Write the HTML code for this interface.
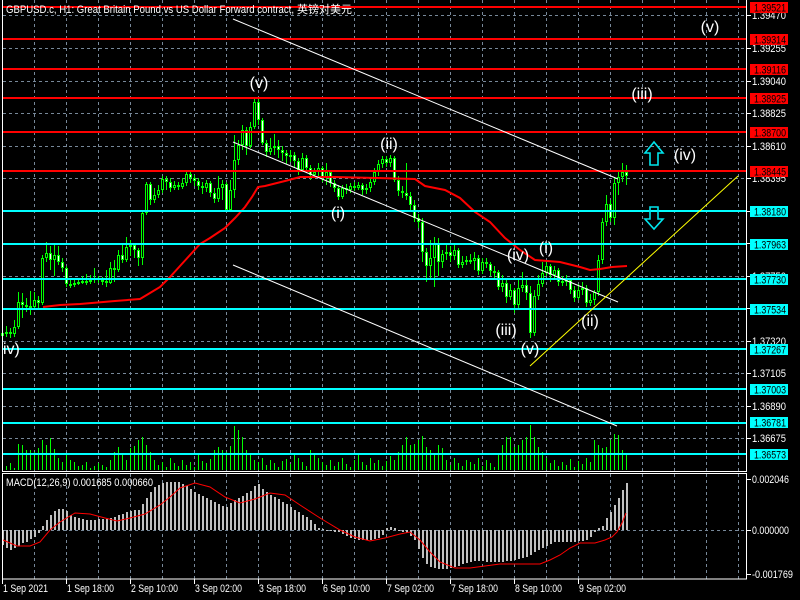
<!DOCTYPE html>
<html><head><meta charset="utf-8">
<style>
html,body{margin:0;padding:0;background:#000;}
svg{display:block}
text{font-family:"Liberation Sans","Noto Sans CJK SC",sans-serif;}
</style></head><body>
<svg width="800" height="600" viewBox="0 0 800 600" xmlns="http://www.w3.org/2000/svg">
<rect width="800" height="600" fill="#000"/>
<!-- grid -->
<g stroke="#778899" stroke-width="1" stroke-dasharray="3 3" fill="none">
<path d="M34.5 0V471M66.5 0V471M98.5 0V471M130.5 0V471M162.5 0V471M194.5 0V471M226.5 0V471M258.5 0V471M290.5 0V471M322.5 0V471M354.5 0V471M386.5 0V471M418.5 0V471M450.5 0V471M482.5 0V471M514.5 0V471M546.5 0V471M578.5 0V471M610.5 0V471M642.5 0V471M674.5 0V471M706.5 0V471M738.5 0V471"/>
<path d="M34.5 474V579M66.5 474V579M98.5 474V579M130.5 474V579M162.5 474V579M194.5 474V579M226.5 474V579M258.5 474V579M290.5 474V579M322.5 474V579M354.5 474V579M386.5 474V579M418.5 474V579M450.5 474V579M482.5 474V579M514.5 474V579M546.5 474V579M578.5 474V579M610.5 474V579M642.5 474V579M674.5 474V579M706.5 474V579M738.5 474V579"/>
<path d="M3 15.5H746M3 48.5H746M3 81.5H746M3 113.5H746M3 146.5H746M3 178.5H746M3 211.5H746M3 243.5H746M3 276.5H746M3 308.5H746M3 341.5H746M3 373.5H746M3 406.5H746M3 438.5H746M3 530.5H746"/>
</g>
<!-- volumes -->
<path stroke="#00ff00" stroke-width="1" fill="none" d="M2.5 470V467M6.5 470V466M10.5 470V463M14.5 470V468M18.5 470V444M22.5 470V445M26.5 470V450M30.5 470V450M34.5 470V452M38.5 470V448M42.5 470V440M46.5 470V445M50.5 470V438M54.5 470V449M58.5 470V458M62.5 470V462M66.5 470V455M70.5 470V460M74.5 470V462M78.5 470V466M82.5 470V465M86.5 470V462M90.5 470V468M94.5 470V466M98.5 470V463M102.5 470V465M106.5 470V467M110.5 470V460M114.5 470V452M118.5 470V447M122.5 470V455M126.5 470V460M130.5 470V448M134.5 470V446M138.5 470V440M142.5 470V437M146.5 470V445M150.5 470V452M154.5 470V460M158.5 470V465M162.5 470V462M166.5 470V467M170.5 470V458M174.5 470V463M178.5 470V466M182.5 470V460M186.5 470V465M190.5 470V462M194.5 470V467M198.5 470V455M202.5 470V461M206.5 470V463M210.5 470V459M214.5 470V450M218.5 470V447M222.5 470V450M226.5 470V452M230.5 470V446M234.5 470V426M238.5 470V430M242.5 470V437M246.5 470V450M250.5 470V455M254.5 470V460M258.5 470V462M262.5 470V458M266.5 470V465M270.5 470V460M274.5 470V463M278.5 470V467M282.5 470V461M286.5 470V459M290.5 470V464M294.5 470V455M298.5 470V458M302.5 470V462M306.5 470V466M310.5 470V450M314.5 470V453M318.5 470V458M322.5 470V462M326.5 470V465M330.5 470V460M334.5 470V466M338.5 470V462M342.5 470V458M346.5 470V464M350.5 470V467M354.5 470V460M358.5 470V455M362.5 470V462M366.5 470V465M370.5 470V458M374.5 470V463M378.5 470V460M382.5 470V466M386.5 470V461M390.5 470V456M394.5 470V460M398.5 470V452M402.5 470V445M406.5 470V437M410.5 470V445M414.5 470V444M418.5 470V440M422.5 470V436M426.5 470V447M430.5 470V450M434.5 470V455M438.5 470V445M442.5 470V448M446.5 470V460M450.5 470V465M454.5 470V458M458.5 470V463M462.5 470V466M466.5 470V460M470.5 470V462M474.5 470V464M478.5 470V458M482.5 470V466M486.5 470V460M490.5 470V463M494.5 470V467M498.5 470V455M502.5 470V445M506.5 470V437M510.5 470V437M514.5 470V447M518.5 470V445M522.5 470V440M526.5 470V437M530.5 470V425M534.5 470V437M538.5 470V447M542.5 470V452M546.5 470V458M550.5 470V463M554.5 470V460M558.5 470V466M562.5 470V462M566.5 470V465M570.5 470V459M574.5 470V467M578.5 470V461M582.5 470V464M586.5 470V458M590.5 470V462M594.5 470V440M598.5 470V445M602.5 470V448M606.5 470V447M610.5 470V440M614.5 470V434M618.5 470V435M622.5 470V450M626.5 470V455"/>
<!-- wicks -->
<path stroke="#00ff00" stroke-width="1" fill="none" d="M2.5 328V340M6.5 326V337M10.5 328V338M14.5 320V337M18.5 292V329M22.5 293V318M26.5 298V312M30.5 291V315M34.5 292V310M38.5 296V308M42.5 255V305M46.5 242V262M50.5 246V270M54.5 245V276M58.5 246V265M62.5 258V272M66.5 266V287M70.5 280V288M74.5 280V287M78.5 278V285M82.5 276V284M86.5 274V285M90.5 275V284M94.5 268V283M98.5 276V283M102.5 277V285M106.5 270V287M110.5 262V284M114.5 260V282M118.5 250V272M122.5 245V263M126.5 237V262M130.5 240V256M134.5 243V258M138.5 248V266M142.5 210V265M146.5 182V215M150.5 182V205M154.5 188V203M158.5 185V198M162.5 176V193M166.5 176V190M170.5 178V192M174.5 181V190M178.5 182V190M182.5 178V189M186.5 171V186M190.5 171V183M194.5 175V186M198.5 178V190M202.5 182V194M206.5 180V192M210.5 181V197M214.5 188V203M218.5 176V202M222.5 180V200M226.5 182V211M230.5 180V212M234.5 135V198M238.5 140V165M242.5 125V150M246.5 127V155M250.5 122V148M254.5 99V129M258.5 97V125M262.5 118V145M266.5 140V157M270.5 138V155M274.5 134V155M278.5 140V158M282.5 146V161M286.5 150V164M290.5 150V162M294.5 152V167M298.5 158V175M302.5 153V172M306.5 155V173M310.5 165V180M314.5 168V178M318.5 163V178M322.5 166V182M326.5 163V185M330.5 170V187M334.5 180V192M338.5 185V200M342.5 185V199M346.5 184V194M350.5 183V193M354.5 182V191M358.5 182V190M362.5 183V195M366.5 184V194M370.5 178V192M374.5 168V185M378.5 160V176M382.5 156V168M386.5 156V167M390.5 155V167M394.5 156V182M398.5 176V196M402.5 186V198M406.5 163V200M410.5 192V210M414.5 200V222M418.5 214V228M422.5 218V262M426.5 248V282M430.5 240V278M434.5 237V287M438.5 238V276M442.5 250V268M446.5 245V260M450.5 246V262M454.5 244V260M458.5 248V268M462.5 256V268M466.5 256V265M470.5 254V264M474.5 252V270M478.5 255V275M482.5 258V274M486.5 258V268M490.5 262V276M494.5 266V280M498.5 270V290M502.5 275V292M506.5 280V303M510.5 284V300M514.5 288V313M518.5 280V308M522.5 272V292M526.5 278V300M530.5 286V338M534.5 290V336M538.5 275V300M542.5 262V287M546.5 260V276M550.5 264V282M554.5 266V280M558.5 268V286M562.5 276V286M566.5 275V286M570.5 278V294M574.5 286V302M578.5 284V300M582.5 282V295M586.5 285V307M590.5 294V306M594.5 290V305M598.5 255V296M602.5 218V264M606.5 195V226M610.5 200V222M614.5 178V225M618.5 170V195M622.5 163V182M626.5 165V185"/>
<!-- bull bodies -->
<g fill="#000" stroke="#00ff00" stroke-width="1">
<rect x="1.5" y="333.5" width="2" height="2"/><rect x="5.5" y="332.5" width="2" height="1"/><rect x="13.5" y="327.5" width="2" height="6"/><rect x="17.5" y="302.5" width="2" height="24"/><rect x="33.5" y="300.5" width="2" height="6"/><rect x="41.5" y="258.5" width="2" height="44"/><rect x="45.5" y="253.5" width="2" height="4"/><rect x="53.5" y="255.5" width="2" height="4"/><rect x="73.5" y="283.5" width="2" height="1"/><rect x="77.5" y="282.5" width="2" height="1"/><rect x="81.5" y="281.5" width="2" height="1"/><rect x="89.5" y="280.5" width="2" height="1"/><rect x="93.5" y="278.5" width="2" height="1"/><rect x="109.5" y="268.5" width="2" height="14"/><rect x="117.5" y="255.5" width="2" height="14"/><rect x="125.5" y="247.5" width="2" height="12"/><rect x="129.5" y="245.5" width="2" height="1"/><rect x="141.5" y="213.5" width="2" height="44"/><rect x="145.5" y="184.5" width="2" height="28"/><rect x="153.5" y="195.5" width="2" height="4"/><rect x="157.5" y="190.5" width="2" height="4"/><rect x="161.5" y="179.5" width="2" height="10"/><rect x="173.5" y="185.5" width="2" height="2"/><rect x="181.5" y="183.5" width="2" height="3"/><rect x="185.5" y="174.5" width="2" height="8"/><rect x="205.5" y="183.5" width="2" height="4"/><rect x="217.5" y="188.5" width="2" height="10"/><rect x="221.5" y="184.5" width="2" height="3"/><rect x="229.5" y="190.5" width="2" height="19"/><rect x="233.5" y="160.5" width="2" height="29"/><rect x="237.5" y="145.5" width="2" height="14"/><rect x="241.5" y="130.5" width="2" height="14"/><rect x="249.5" y="127.5" width="2" height="18"/><rect x="253.5" y="102.5" width="2" height="24"/><rect x="269.5" y="148.5" width="2" height="3"/><rect x="273.5" y="146.5" width="2" height="1"/><rect x="289.5" y="155.5" width="2" height="1"/><rect x="301.5" y="158.5" width="2" height="11"/><rect x="313.5" y="172.5" width="2" height="2"/><rect x="317.5" y="168.5" width="2" height="3"/><rect x="325.5" y="172.5" width="2" height="4"/><rect x="341.5" y="188.5" width="2" height="8"/><rect x="349.5" y="186.5" width="2" height="3"/><rect x="357.5" y="185.5" width="2" height="2"/><rect x="365.5" y="188.5" width="2" height="1"/><rect x="369.5" y="182.5" width="2" height="5"/><rect x="373.5" y="172.5" width="2" height="9"/><rect x="377.5" y="164.5" width="2" height="7"/><rect x="381.5" y="159.5" width="2" height="4"/><rect x="389.5" y="158.5" width="2" height="4"/><rect x="429.5" y="258.5" width="2" height="7"/><rect x="433.5" y="244.5" width="2" height="13"/><rect x="441.5" y="254.5" width="2" height="7"/><rect x="445.5" y="252.5" width="2" height="1"/><rect x="453.5" y="250.5" width="2" height="5"/><rect x="461.5" y="262.5" width="2" height="2"/><rect x="465.5" y="260.5" width="2" height="1"/><rect x="473.5" y="258.5" width="2" height="2"/><rect x="481.5" y="262.5" width="2" height="8"/><rect x="501.5" y="283.5" width="2" height="3"/><rect x="509.5" y="290.5" width="2" height="6"/><rect x="517.5" y="288.5" width="2" height="16"/><rect x="521.5" y="285.5" width="2" height="2"/><rect x="533.5" y="296.5" width="2" height="36"/><rect x="537.5" y="284.5" width="2" height="11"/><rect x="541.5" y="273.5" width="2" height="10"/><rect x="545.5" y="266.5" width="2" height="6"/><rect x="553.5" y="270.5" width="2" height="4"/><rect x="561.5" y="281.5" width="2" height="1"/><rect x="565.5" y="280.5" width="2" height="1"/><rect x="577.5" y="290.5" width="2" height="7"/><rect x="581.5" y="288.5" width="2" height="1"/><rect x="589.5" y="300.5" width="2" height="2"/><rect x="593.5" y="292.5" width="2" height="7"/><rect x="597.5" y="260.5" width="2" height="31"/><rect x="601.5" y="222.5" width="2" height="37"/><rect x="605.5" y="204.5" width="2" height="17"/><rect x="613.5" y="183.5" width="2" height="34"/><rect x="617.5" y="177.5" width="2" height="5"/><rect x="621.5" y="172.5" width="2" height="4"/>
</g>
<!-- bear bodies -->
<g fill="#fff" stroke="#00ff00" stroke-width="1">
<rect x="9.5" y="332.5" width="2" height="1"/><rect x="21.5" y="302.5" width="2" height="2"/><rect x="25.5" y="305.5" width="2" height="1"/><rect x="29.5" y="306.5" width="2" height="1"/><rect x="37.5" y="300.5" width="2" height="2"/><rect x="49.5" y="253.5" width="2" height="6"/><rect x="57.5" y="255.5" width="2" height="6"/><rect x="61.5" y="262.5" width="2" height="5"/><rect x="65.5" y="268.5" width="2" height="15"/><rect x="69.5" y="284.5" width="2" height="1"/><rect x="85.5" y="281.5" width="2" height="1"/><rect x="97.5" y="278.5" width="2" height="1"/><rect x="101.5" y="280.5" width="2" height="1"/><rect x="105.5" y="281.5" width="2" height="1"/><rect x="113.5" y="268.5" width="2" height="1"/><rect x="121.5" y="255.5" width="2" height="4"/><rect x="133.5" y="245.5" width="2" height="4"/><rect x="137.5" y="250.5" width="2" height="7"/><rect x="149.5" y="184.5" width="2" height="15"/><rect x="165.5" y="179.5" width="2" height="2"/><rect x="169.5" y="182.5" width="2" height="5"/><rect x="177.5" y="185.5" width="2" height="1"/><rect x="189.5" y="174.5" width="2" height="3"/><rect x="193.5" y="178.5" width="2" height="2"/><rect x="197.5" y="181.5" width="2" height="4"/><rect x="201.5" y="186.5" width="2" height="1"/><rect x="209.5" y="183.5" width="2" height="9"/><rect x="213.5" y="193.5" width="2" height="5"/><rect x="225.5" y="184.5" width="2" height="25"/><rect x="245.5" y="130.5" width="2" height="15"/><rect x="257.5" y="102.5" width="2" height="17"/><rect x="261.5" y="120.5" width="2" height="22"/><rect x="265.5" y="143.5" width="2" height="8"/><rect x="277.5" y="146.5" width="2" height="3"/><rect x="281.5" y="150.5" width="2" height="2"/><rect x="285.5" y="153.5" width="2" height="2"/><rect x="293.5" y="155.5" width="2" height="5"/><rect x="297.5" y="161.5" width="2" height="8"/><rect x="305.5" y="158.5" width="2" height="9"/><rect x="309.5" y="168.5" width="2" height="6"/><rect x="321.5" y="168.5" width="2" height="8"/><rect x="329.5" y="172.5" width="2" height="10"/><rect x="333.5" y="183.5" width="2" height="4"/><rect x="337.5" y="188.5" width="2" height="8"/><rect x="345.5" y="188.5" width="2" height="1"/><rect x="353.5" y="186.5" width="2" height="1"/><rect x="361.5" y="185.5" width="2" height="4"/><rect x="385.5" y="159.5" width="2" height="3"/><rect x="393.5" y="158.5" width="2" height="21"/><rect x="397.5" y="180.5" width="2" height="10"/><rect x="401.5" y="191.5" width="2" height="1"/><rect x="405.5" y="193.5" width="2" height="2"/><rect x="409.5" y="196.5" width="2" height="8"/><rect x="413.5" y="205.5" width="2" height="12"/><rect x="417.5" y="218.5" width="2" height="3"/><rect x="421.5" y="222.5" width="2" height="29"/><rect x="425.5" y="252.5" width="2" height="13"/><rect x="437.5" y="244.5" width="2" height="17"/><rect x="449.5" y="252.5" width="2" height="3"/><rect x="457.5" y="250.5" width="2" height="14"/><rect x="469.5" y="260.5" width="2" height="1"/><rect x="477.5" y="258.5" width="2" height="12"/><rect x="485.5" y="262.5" width="2" height="1"/><rect x="489.5" y="264.5" width="2" height="6"/><rect x="493.5" y="271.5" width="2" height="1"/><rect x="497.5" y="272.5" width="2" height="14"/><rect x="505.5" y="283.5" width="2" height="13"/><rect x="513.5" y="290.5" width="2" height="14"/><rect x="525.5" y="285.5" width="2" height="7"/><rect x="529.5" y="293.5" width="2" height="39"/><rect x="549.5" y="266.5" width="2" height="8"/><rect x="557.5" y="270.5" width="2" height="11"/><rect x="569.5" y="280.5" width="2" height="9"/><rect x="573.5" y="290.5" width="2" height="7"/><rect x="585.5" y="288.5" width="2" height="14"/><rect x="609.5" y="204.5" width="2" height="13"/><rect x="625.5" y="172.5" width="2" height="3"/>
</g>
<!-- moving average -->
<polyline fill="none" stroke="#ff0000" stroke-width="2" points="43,307 60,305 80,304 115,301 140,299 150,293 160,287 170,277 180,266 190,255 200,244 210,238 225,228 235,218 245,207 252,197 258,187 265,186 285,181 300,177 335,177 415,179 425,186 445,190 460,198 475,212 490,222 505,238 520,250 535,260 560,262 580,267 590,270 600,269 612,267 627,266"/>
<!-- horizontal levels -->
<g fill="#ff0000">
<rect x="3" y="6" width="743" height="2"/><rect x="3" y="38" width="743" height="2"/><rect x="3" y="68" width="743" height="2"/><rect x="3" y="97" width="743" height="2"/><rect x="3" y="131" width="743" height="2"/><rect x="3" y="170" width="743" height="2"/>
</g>
<g fill="#00ffff">
<rect x="3" y="210" width="743" height="2"/><rect x="3" y="243" width="743" height="2"/><rect x="3" y="278" width="743" height="2"/><rect x="3" y="308" width="743" height="2"/><rect x="3" y="348" width="743" height="2"/><rect x="3" y="388" width="743" height="2"/><rect x="3" y="422" width="743" height="2"/><rect x="3" y="453" width="743" height="2"/>
</g>
<!-- channel lines -->
<g stroke="#ffffff" stroke-width="1" fill="none">
<line x1="233" y1="19" x2="618" y2="179"/>
<line x1="233" y1="142" x2="618" y2="302"/>
<line x1="233" y1="265" x2="617" y2="426"/>
</g>
<line x1="530" y1="366" x2="738" y2="176" stroke="#ffff00" stroke-width="1"/>
<!-- arrows -->
<g fill="none" stroke="#00e5ee" stroke-width="1.6">
<polygon points="654,142 663,153 658,153 658,165 650,165 650,153 645,153"/>
<polygon points="650,207 658,207 658,219 663,219 654,229 645,219 650,219"/>
</g>
<!-- wave labels -->
<g fill="#ffffff" font-size="16" text-anchor="middle">
<text x="710" y="32">(v)</text>
<text x="259" y="88">(v)</text>
<text x="642" y="99">(iii)</text>
<text x="685" y="160">(iv)</text>
<text x="389" y="149">(ii)</text>
<text x="338" y="218">(i)</text>
<text x="518" y="260">(iv)</text>
<text x="546" y="253">(i)</text>
<text x="506" y="335">(iii)</text>
<text x="530" y="354">(v)</text>
<text x="590" y="326">(ii)</text>
<text x="3" y="354" text-anchor="start">iv)</text>
</g>
<!-- title -->
<text x="6" y="13" font-size="11" fill="#ffffff" textLength="288" lengthAdjust="spacingAndGlyphs">GBPUSD.c, H1:  Great Britain Pound vs US Dollar Forward contract,</text>
<text x="297" y="13" font-size="11" fill="#ffffff">英镑对美元</text>
<!-- MACD -->
<path fill="none" stroke="#c0c0c0" stroke-width="2" d="M3 530V545M7 530V548M11 530V550M15 530V548M19 530V546M23 530V543M27 530V542M31 530V539M35 530V537M39 530V533M43 530V526M47 530V520M51 530V515M55 530V511M59 530V509M63 530V509M67 530V511M71 530V515M75 530V517M79 530V518M83 530V519M87 530V520M91 530V520M95 530V520M99 530V519M103 530V519M107 530V519M111 530V518M115 530V517M119 530V515M123 530V514M127 530V512M131 530V511M135 530V510M139 530V510M143 530V504M147 530V498M151 530V492M155 530V487M159 530V485M163 530V483M167 530V482M171 530V482M175 530V482M179 530V482M183 530V484M187 530V486M191 530V489M195 530V492M199 530V494M203 530V496M207 530V498M211 530V500M215 530V502M219 530V504M223 530V506M227 530V507M231 530V503M235 530V500M239 530V498M243 530V496M247 530V493M251 530V491M255 530V486M259 530V484M263 530V489M267 530V492M271 530V495M275 530V497M279 530V499M283 530V502M287 530V504M291 530V507M295 530V510M299 530V512M303 530V515M307 530V517M311 530V520M315 530V524M319 530V528M323 530V529M327 530V531M331 530V531M335 530V532M339 530V532M343 530V534M347 530V536M351 530V538M355 530V539M359 530V540M363 530V540M367 530V540M371 530V540M375 530V539M379 530V538M383 530V535M387 530V528M391 530V527M395 530V528M399 530V531M403 530V532M407 530V533M411 530V536M415 530V540M419 530V549M423 530V558M427 530V564M431 530V567M435 530V568M439 530V569M443 530V569M447 530V569M451 530V568M455 530V567M459 530V566M463 530V564M467 530V563M471 530V562M475 530V561M479 530V561M483 530V561M487 530V562M491 530V562M495 530V562M499 530V562M503 530V562M507 530V561M511 530V561M515 530V560M519 530V559M523 530V558M527 530V557M531 530V555M535 530V552M539 530V550M543 530V548M547 530V546M551 530V544M555 530V542M559 530V542M563 530V542M567 530V542M571 530V542M575 530V542M579 530V541M583 530V541M587 530V540M591 530V537M595 530V532M599 530V528M603 530V526M607 530V518M611 530V512M615 530V505M619 530V498M623 530V490M627 530V483"/>
<polyline fill="none" stroke="#ff0000" stroke-width="1" points="3,540 17,546 30,546 40,542 50,530 60,522 75,513 90,514 105,518 117,521 130,518 145,514 160,505 170,497 180,488 195,483 210,487 225,497 240,503 255,499 270,493 285,495 300,505 320,518 340,530 355,537 370,541 385,538 400,534 410,532 420,540 430,552 440,562 455,568 470,568 485,566 500,564 540,564 550,560 560,555 570,548 580,543 595,543 605,540 612,537 617,532 622,523 626,513"/>
<text x="6" y="486" font-size="11" fill="#ffffff" textLength="147" lengthAdjust="spacingAndGlyphs">MACD(12,26,9) 0.001685 0.000660</text>
<!-- borders -->
<g stroke="#ffffff" stroke-width="1" fill="none">
<path d="M2.5 0V471.5H746.5V0"/>
<rect x="2.5" y="473.5" width="744" height="105.5"/>
<path d="M747 15.5H751M747 48.5H751M747 81.5H751M747 113.5H751M747 146.5H751M747 178.5H751M747 211.5H751M747 243.5H751M747 276.5H751M747 308.5H751M747 341.5H751M747 373.5H751M747 406.5H751M747 438.5H751M747 479.5H751M747 530.5H751M747 574.5H751"/>
<path d="M66.5 579V584M130.5 579V584M194.5 579V584M258.5 579V584M322.5 579V584M386.5 579V584M450.5 579V584M514.5 579V584M578.5 579V584M2.5 579V584"/>
</g>
<!-- right axis labels -->
<g fill="#ffffff" font-size="11">
<text x="752" y="19" textLength="34" lengthAdjust="spacingAndGlyphs">1.39470</text>
<text x="752" y="52" textLength="34" lengthAdjust="spacingAndGlyphs">1.39255</text>
<text x="752" y="85" textLength="34" lengthAdjust="spacingAndGlyphs">1.39040</text>
<text x="752" y="117" textLength="34" lengthAdjust="spacingAndGlyphs">1.38825</text>
<text x="752" y="150" textLength="34" lengthAdjust="spacingAndGlyphs">1.38610</text>
<text x="752" y="182" textLength="34" lengthAdjust="spacingAndGlyphs">1.38395</text>
<text x="752" y="215" textLength="34" lengthAdjust="spacingAndGlyphs">1.38180</text>
<text x="752" y="247" textLength="34" lengthAdjust="spacingAndGlyphs">1.37965</text>
<text x="752" y="280" textLength="34" lengthAdjust="spacingAndGlyphs">1.37750</text>
<text x="752" y="312" textLength="34" lengthAdjust="spacingAndGlyphs">1.37535</text>
<text x="752" y="345" textLength="34" lengthAdjust="spacingAndGlyphs">1.37320</text>
<text x="752" y="377" textLength="34" lengthAdjust="spacingAndGlyphs">1.37105</text>
<text x="752" y="410" textLength="34" lengthAdjust="spacingAndGlyphs">1.36890</text>
<text x="752" y="442" textLength="34" lengthAdjust="spacingAndGlyphs">1.36675</text>
<text x="752" y="483" textLength="37" lengthAdjust="spacingAndGlyphs">0.002046</text>
<text x="752" y="534" textLength="37" lengthAdjust="spacingAndGlyphs">0.000000</text>
<text x="752" y="578" textLength="41" lengthAdjust="spacingAndGlyphs">-0.001769</text>
</g>
<!-- price boxes -->
<g fill="#ff0000">
<rect x="750" y="2" width="38" height="11"/><rect x="750" y="34" width="38" height="11"/><rect x="750" y="64" width="38" height="11"/><rect x="750" y="93" width="38" height="11"/><rect x="750" y="127" width="38" height="11"/><rect x="750" y="166" width="38" height="11"/>
</g>
<g fill="#00ffff">
<rect x="750" y="206" width="38" height="11"/><rect x="750" y="239" width="38" height="11"/><rect x="750" y="274" width="38" height="11"/><rect x="750" y="304" width="38" height="11"/><rect x="750" y="344" width="38" height="11"/><rect x="750" y="384" width="38" height="11"/><rect x="750" y="417" width="38" height="11"/><rect x="750" y="449" width="38" height="11"/>
</g>
<g fill="#000000" font-size="11">
<text x="754" y="11.5" textLength="32" lengthAdjust="spacingAndGlyphs">1.39521</text>
<text x="754" y="43.5" textLength="32" lengthAdjust="spacingAndGlyphs">1.39314</text>
<text x="754" y="73.5" textLength="32" lengthAdjust="spacingAndGlyphs">1.39116</text>
<text x="754" y="102.5" textLength="32" lengthAdjust="spacingAndGlyphs">1.38925</text>
<text x="754" y="136.5" textLength="32" lengthAdjust="spacingAndGlyphs">1.38700</text>
<text x="754" y="175.5" textLength="32" lengthAdjust="spacingAndGlyphs">1.38445</text>
<text x="754" y="215.5" textLength="32" lengthAdjust="spacingAndGlyphs">1.38180</text>
<text x="754" y="248.5" textLength="32" lengthAdjust="spacingAndGlyphs">1.37963</text>
<text x="754" y="283.5" textLength="32" lengthAdjust="spacingAndGlyphs">1.37730</text>
<text x="754" y="313.5" textLength="32" lengthAdjust="spacingAndGlyphs">1.37534</text>
<text x="754" y="353.5" textLength="32" lengthAdjust="spacingAndGlyphs">1.37267</text>
<text x="754" y="393.5" textLength="32" lengthAdjust="spacingAndGlyphs">1.37003</text>
<text x="754" y="426.5" textLength="32" lengthAdjust="spacingAndGlyphs">1.36781</text>
<text x="754" y="458.5" textLength="32" lengthAdjust="spacingAndGlyphs">1.36573</text>
</g>
<!-- time axis -->
<g fill="#ffffff" font-size="11">
<text x="3" y="592" textLength="45" lengthAdjust="spacingAndGlyphs">1 Sep 2021</text>
<text x="67" y="592" textLength="47" lengthAdjust="spacingAndGlyphs">1 Sep 18:00</text>
<text x="131" y="592" textLength="47" lengthAdjust="spacingAndGlyphs">2 Sep 10:00</text>
<text x="195" y="592" textLength="47" lengthAdjust="spacingAndGlyphs">3 Sep 02:00</text>
<text x="259" y="592" textLength="47" lengthAdjust="spacingAndGlyphs">3 Sep 18:00</text>
<text x="323" y="592" textLength="47" lengthAdjust="spacingAndGlyphs">6 Sep 10:00</text>
<text x="387" y="592" textLength="47" lengthAdjust="spacingAndGlyphs">7 Sep 02:00</text>
<text x="451" y="592" textLength="47" lengthAdjust="spacingAndGlyphs">7 Sep 18:00</text>
<text x="515" y="592" textLength="47" lengthAdjust="spacingAndGlyphs">8 Sep 10:00</text>
<text x="579" y="592" textLength="47" lengthAdjust="spacingAndGlyphs">9 Sep 02:00</text>
</g>
</svg>
</body></html>
